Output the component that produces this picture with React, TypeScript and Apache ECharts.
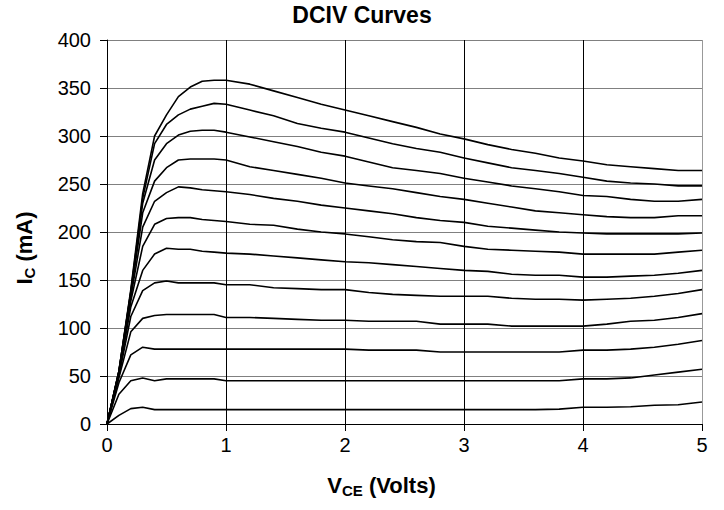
import React, { useEffect, useRef } from "react";
import * as echarts from "echarts";

const vce = [0, 0.1, 0.2, 0.3, 0.4, 0.5, 0.6, 0.7, 0.8, 0.9, 1.0, 1.2, 1.4, 1.6, 1.8, 2.0, 2.2, 2.4, 2.6, 2.8, 3.0, 3.2, 3.4, 3.6, 3.8, 4.0, 4.2, 4.4, 4.6, 4.8, 5.0];

const curve1 = [0, 9, 16, 17.5, 15, 15, 15, 15, 15, 15, 15, 15, 15, 15, 15, 15, 15, 15, 15, 15, 15, 15, 15, 15, 15.5, 17.5, 17.5, 18, 19.5, 20, 23];
const curve2 = [0, 31, 45, 48, 45, 47, 47, 47, 47, 47, 45, 45, 45, 45, 45, 45, 45, 45, 45, 45, 45, 45, 45, 45, 45, 47, 47, 48, 51, 54, 57];
const curve3 = [0, 43, 72, 80, 78, 78, 78, 78, 78, 78, 78, 78, 78, 78, 78, 78, 77, 77, 77, 75, 75, 75, 75, 75, 75, 77, 77, 78, 80, 83, 87];
const curve4 = [0, 48, 96, 110, 113, 114, 114, 114, 114, 114, 111, 111, 110, 109, 108, 108, 107, 107, 107, 104, 104, 104, 102, 102, 102, 102, 104, 107, 108, 111, 115];
const curve5 = [0, 50, 112, 139, 147, 149, 147, 147, 147, 147, 145, 145, 142, 141, 140, 140, 137, 135, 134, 133, 133, 133, 131, 130, 130, 129, 130, 131, 133, 136, 140];
const curve6 = [0, 52, 122, 160, 177, 183, 182, 182, 180, 179, 178, 177, 175, 173, 171, 169, 168, 166, 164, 162, 160, 159, 156, 155, 155, 153, 153, 154, 155, 157, 160];
const curve7 = [0, 53, 128, 185, 208, 214, 215, 215, 213, 212, 211, 208, 207, 203, 200, 198, 195, 192, 190, 189, 185, 182, 181, 180, 179, 177, 177, 177, 177, 179, 181];
const curve8 = [0, 54, 132, 205, 232, 241, 247, 246, 244, 243, 242, 239, 235, 232, 228, 225, 222, 219, 215, 212, 210, 206, 204, 202, 200, 199, 198, 198, 198, 198, 199];
const curve9 = [0, 54, 135, 220, 253, 267, 275, 276, 276, 276, 275, 268, 264, 260, 256, 251, 248, 245, 241, 237, 234, 230, 226, 222, 220, 218, 216, 215, 215, 217, 217];
const curve10 = [0, 55, 137, 230, 275, 292, 301, 305, 306, 306, 304, 299, 294, 289, 283, 279, 273, 267, 264, 261, 256, 252, 248, 245, 242, 238, 237, 234, 232, 232, 234];
const curve11 = [0, 55, 138, 235, 292, 312, 322, 328, 331, 334, 333, 327, 321, 313, 308, 304, 298, 292, 287, 283, 277, 272, 267, 264, 261, 257, 253, 251, 250, 248, 248];
const curve12 = [0, 55, 140, 240, 300, 322, 341, 351, 357, 358, 358, 354, 347, 340, 333, 327, 321, 315, 309, 302, 297, 291, 286, 282, 277, 274, 270, 268, 266, 264, 264];

const curves = [curve1, curve2, curve3, curve4, curve5, curve6, curve7, curve8, curve9, curve10, curve11, curve12];

const FONT = "Liberation Sans, Arial, sans-serif";

const nameRich = {
  v: { fontSize: 22, fontWeight: "bold", color: "#000", fontFamily: FONT, lineHeight: 26 },
  s: { fontSize: 15, fontWeight: "bold", color: "#000", fontFamily: FONT, lineHeight: 15, verticalAlign: "bottom" },
};

export default function App() {
  const ref = useRef<HTMLDivElement>(null);
  useEffect(() => {
    if (!ref.current) return;
    const chart = echarts.init(ref.current, null, { renderer: "svg" });
    chart.setOption({
      animation: false,
      backgroundColor: "#fff",
      title: {
        text: "DCIV Curves",
        left: "center",
        top: -2,
        textStyle: { fontSize: 23, fontWeight: "bold", color: "#000", fontFamily: FONT },
      },
      grid: { left: 107, right: 22, top: 40, bottom: 86, containLabel: false },
      xAxis: {
        type: "value",
        min: 0,
        max: 5,
        interval: 1,
        name: "{v|V}{s|CE}{v| (Volts)}",
        nameLocation: "middle",
        nameGap: 48,
        nameTextStyle: { rich: nameRich, padding: [0, 46, 0, 0] },
        axisLine: { lineStyle: { color: "#000", width: 1 } },
        axisTick: { show: true, length: 7, lineStyle: { color: "#000" } },
        axisLabel: { fontSize: 20, color: "#000", fontFamily: FONT, margin: 11 },
        splitLine: {
          show: true,
          lineStyle: { color: ["#000", "#000", "#000", "#000", "#000", "#999"], width: 1 },
        },
      },
      yAxis: {
        type: "value",
        min: 0,
        max: 400,
        interval: 50,
        name: "{v|I}{s|C}{v| (mA)}",
        nameLocation: "middle",
        nameRotate: 90,
        nameGap: 70,
        nameTextStyle: { rich: nameRich, padding: [0, 32, 0, 0] },
        axisLine: { show: true, lineStyle: { color: "#000", width: 1 } },
        axisTick: { show: true, length: 7, lineStyle: { color: "#000" } },
        axisLabel: { fontSize: 20, color: "#000", fontFamily: FONT, margin: 16 },
        splitLine: { show: true, lineStyle: { color: "#808080", width: 1 } },
      },
      series: curves.map((c, i) => ({
        type: "line",
        name: "curve" + (i + 1),
        data: vce.map((v, j) => [v, c[j]]),
        symbol: "none",
        lineStyle: { color: "#000", width: 1.6 },
        z: 3,
      })),
    });
    return () => chart.dispose();
  }, []);
  return (
    <div
      ref={ref}
      style={{ position: "fixed", left: 0, top: 0, width: 724, height: 510, background: "#fff" }}
    />
  );
}
